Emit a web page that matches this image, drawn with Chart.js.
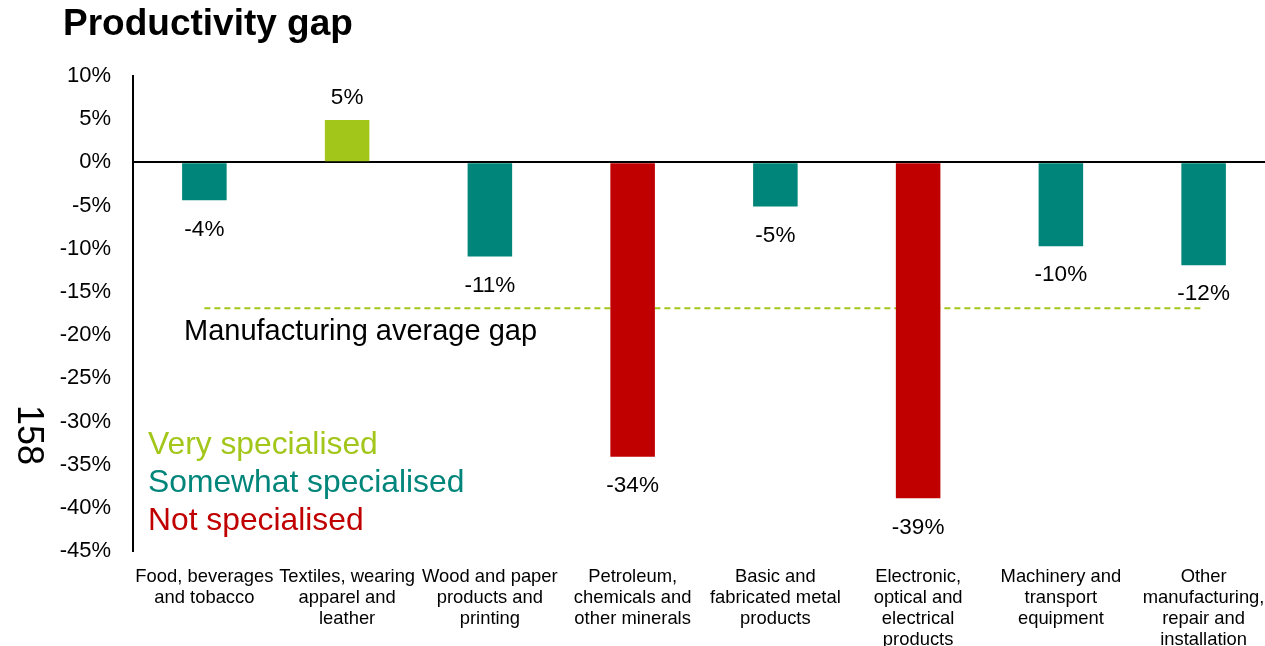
<!DOCTYPE html>
<html>
<head>
<meta charset="utf-8">
<script src="https://cdn.jsdelivr.net/npm/chart.js@4/dist/chart.umd.min.js"></script>
<style>
  html, body { margin: 0; padding: 0; background: #fff; overflow: hidden; }
  #wrap { position: relative; width: 1276px; height: 646px; }
</style>
</head>
<body>
<div id="wrap"><canvas id="chart" width="1276" height="646"></canvas></div>
<script>
// Sectors, as drawn on the horizontal axis (one array per line of each label)
const categories = [
  ['Food, beverages', 'and tobacco'],
  ['Textiles, wearing', 'apparel and', 'leather'],
  ['Wood and paper', 'products and', 'printing'],
  ['Petroleum,', 'chemicals and', 'other minerals'],
  ['Basic and', 'fabricated metal', 'products'],
  ['Electronic,', 'optical and', 'electrical', 'products'],
  ['Machinery and', 'transport', 'equipment'],
  ['Other', 'manufacturing,', 'repair and', 'installation']
];
const categoryKeys = categories.map(c => c.join(' '));

// Productivity gap by sector, in percent
const productivityGap = [-4.4, 4.9, -10.9, -34.1, -5.1, -38.9, -9.7, -11.9];

// Degree of specialisation of each sector
const specialisation = ['some', 'very', 'some', 'not', 'some', 'not', 'some', 'some'];

// Manufacturing-wide average gap, in percent
const averageGap = -16.9;

// Y-axis range and step, in percent
const yTicks = { min: -45, max: 10, step: 5 };

const palette = { very: '#a3c61b', some: '#00857a', not: '#c00000' };
const specialisationLegend = [
  { text: 'Very specialised', key: 'very' },
  { text: 'Somewhat specialised', key: 'some' },
  { text: 'Not specialised', key: 'not' }
];

const FONT = '"Liberation Sans", Arial, Helvetica, sans-serif';

// Value labels at the end of each bar, plus titles and the colour key
const annotations = {
  id: 'annotations',
  afterDatasetsDraw(chart) {
    const ctx = chart.ctx;
    const meta = chart.getDatasetMeta(1);
    ctx.save();
    ctx.font = '22.5px ' + FONT;
    ctx.fillStyle = '#000';
    ctx.textAlign = 'center';
    ctx.textBaseline = 'middle';
    meta.data.forEach((bar, i) => {
      const v = productivityGap[i];
      const label = Math.round(v) + '%';
      const y = v >= 0 ? bar.y - 22 : bar.y + 29;
      ctx.fillText(label, bar.x, y);
    });

    // Average line caption
    const yScale = chart.scales.y;
    ctx.textAlign = 'left';
    ctx.font = '29px ' + FONT;
    ctx.fillText('Manufacturing average gap', 184, yScale.getPixelForValue(averageGap) + 24);

    // Colour key
    ctx.font = '31.8px ' + FONT;
    specialisationLegend.forEach((item, i) => {
      ctx.fillStyle = palette[item.key];
      ctx.fillText(item.text, 148, 445 + i * 38);
    });
    ctx.restore();
  },
  afterDraw(chart) {
    const ctx = chart.ctx;
    ctx.save();
    // Chart title
    ctx.fillStyle = '#000';
    ctx.font = 'bold 37px ' + FONT;
    ctx.textAlign = 'left';
    ctx.textBaseline = 'alphabetic';
    ctx.fillText('Productivity gap', 63, 35);
    // Vertical axis caption, reading downwards
    ctx.translate(28, 435);
    ctx.rotate(Math.PI / 2);
    ctx.font = '36px ' + FONT;
    ctx.textAlign = 'center';
    ctx.textBaseline = 'middle';
    ctx.fillText('158', 0, 0);
    ctx.restore();
  }
};

new Chart(document.getElementById('chart'), {
  type: 'bar',
  data: {
    labels: categoryKeys,
    datasets: [
      {
        type: 'line',
        label: 'Manufacturing average gap',
        data: [
          { x: categoryKeys[0], y: averageGap },
          { x: categoryKeys[categoryKeys.length - 1], y: averageGap }
        ],
        borderColor: '#a3c61b',
        borderWidth: 2,
        borderDash: [6, 4],
        pointRadius: 0,
        fill: false,
        order: 2
      },
      {
        type: 'bar',
        label: 'Productivity gap',
        data: productivityGap,
        backgroundColor: specialisation.map(s => palette[s]),
        borderWidth: 0,
        categoryPercentage: 1,
        barPercentage: 0.312,
        order: 1
      }
    ]
  },
  options: {
    responsive: false,
    animation: false,
    devicePixelRatio: 1,
    layout: { padding: { top: 76, right: 1, bottom: 0, left: 0 } },
    plugins: {
      legend: { display: false },
      title: { display: false },
      tooltip: { enabled: false }
    },
    scales: {
      x: {
        offset: true,
        grid: { display: false },
        border: { display: false },
        ticks: {
          color: '#000',
          font: { family: FONT, size: 18.4, lineHeight: 1.15 },
          padding: 7,
          maxRotation: 0,
          autoSkip: false,
          callback: (value, index) => categories[index]
        },
        afterFit: scale => { scale.height = 95; }
      },
      y: {
        min: yTicks.min,
        max: yTicks.max,
        z: 1,
        ticks: {
          stepSize: yTicks.step,
          color: '#000',
          font: { family: FONT, size: 22 },
          padding: 22,
          callback: v => v + '%'
        },
        grid: {
          drawTicks: false,
          color: ctx => (ctx.tick && ctx.tick.value === 0 ? '#000' : 'rgba(0,0,0,0)'),
          lineWidth: 2
        },
        border: { display: true, color: '#000', width: 2 },
        afterFit: scale => { scale.width = 133; }
      }
    }
  },
  plugins: [annotations]
});
</script>
</body>
</html>
